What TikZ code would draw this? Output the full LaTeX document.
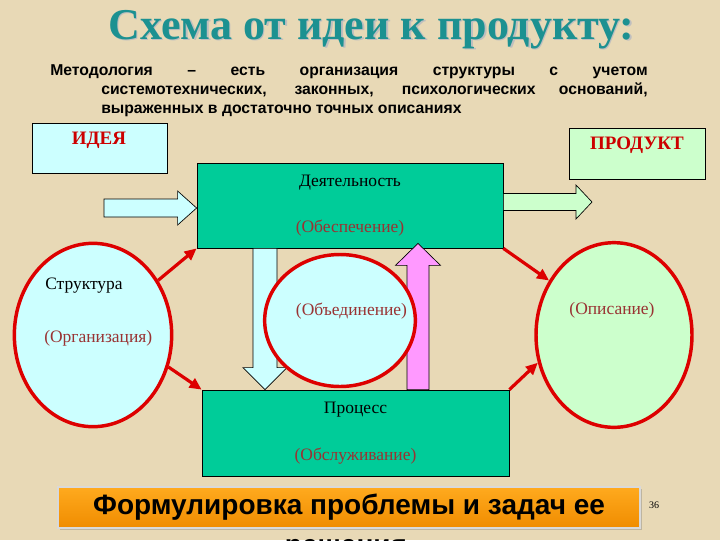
\documentclass[tikz,border=0pt]{standalone}
\usepackage{fontspec}
\setmainfont{Liberation Serif}
\newfontfamily\arialfont{Liberation Sans}
\usetikzlibrary{shapes.geometric,arrows.meta,calc,shadows}

\definecolor{parchment}{RGB}{232,217,182}
\definecolor{titleteal}{RGB}{28,145,145}
\definecolor{paleblue}{RGB}{204,255,255}
\definecolor{palegreen}{RGB}{204,255,204}
\definecolor{seagreen}{RGB}{0,204,153}
\definecolor{orchid}{RGB}{255,153,255}
\definecolor{linkred}{RGB}{221,0,0}
\definecolor{notered}{RGB}{153,51,51}
\definecolor{capsred}{RGB}{204,0,0}
\definecolor{bannerlight}{RGB}{255,170,30}
\definecolor{bannerdark}{RGB}{240,140,0}

\tikzset{
  panel/.style={draw=black, line width=0.6pt, inner sep=0pt},
  bubble/.style={ellipse, draw=linkred, line width=2.6pt, inner sep=0pt},
  link/.style={draw=linkred, line width=2.4pt, -{Triangle[length=9pt,width=8pt]}},
  flatstyle/.style={draw=black, line width=0.5pt},
  captext/.style={font=\fontsize{14.25}{17}\selectfont\bfseries, text=capsred, inner sep=0pt},
  boxtext/.style={font=\fontsize{13.1}{15.75}\selectfont, align=center, inner sep=0pt},
  bannertext/.style={font=\arialfont\bfseries\fontsize{21}{25}\selectfont, inner sep=0pt}
}

% block arrow: style, start, tip, shaft half width, head half width, head length
\newcommand{\flatarrow}[6]{%
  \path ($(#3)!#6!(#2)$) coordinate (ba-base);
  \draw[#1] ($(#2)!#4!90:(#3)$) -- ($(ba-base)!#4!90:(#3)$) -- ($(ba-base)!#5!90:(#3)$) -- (#3)
    -- ($(ba-base)!#5!-90:(#3)$) -- ($(ba-base)!#4!-90:(#3)$) -- ($(#2)!#4!-90:(#3)$) -- cycle;
}

\begin{document}
\begin{tikzpicture}[x=0.75pt, y=-0.75pt]
    \clip (0,0) rectangle (720,540);
    \fill[parchment] (0,0) rectangle (720,540);

    % title and definition
    \node[anchor=base, font=\fontsize{33}{40}\selectfont\bfseries, text=gray!50] (titleshadow) at (373,40.5) {Схема от идеи к продукту:};
    \node[anchor=base, font=\fontsize{33}{40}\selectfont\bfseries, text=titleteal] (title) at (371.5,39) {Схема от идеи к продукту:};
    \node[anchor=north west, inner sep=0pt, font=\arialfont\bfseries\fontsize{11.8}{14.25}\selectfont] (method) at (50,64)
          {\begin{minipage}[t]{448pt}
           \hangindent=38.25pt\hangafter=1 Методология – есть организация структуры с учетом\linebreak
           системотехнических, законных, психологических оснований,\linebreak
           выраженных в достаточно точных описаниях
           \end{minipage}};

    % boxes
    \node[panel, fill=paleblue, minimum width=101.25pt, minimum height=37.5pt] (idea) at (99.5,148) {};
    \node[captext] (idealbl) at (99,140) {ИДЕЯ};
    \node[panel, fill=palegreen, minimum width=102pt, minimum height=38.25pt] (product) at (637,153.5) {};
    \node[captext] (productlbl) at (637,145) {ПРОДУКТ};

    \node[panel, fill=seagreen, minimum width=229.5pt, minimum height=63.75pt, boxtext] (deyat) at (350,205.5)
        {Деятельность\\[18.75pt]\textcolor{notered}{(Обеспечение)}};
    \node[panel, fill=seagreen, minimum width=230.25pt, minimum height=64.5pt, boxtext] (process) at (355.5,433)
        {Процесс\\[19.5pt]\textcolor{notered}{(Обслуживание)}};

    % block arrows
    \coordinate (ideafeed) at (104,208);
    \coordinate (ideatip) at (ideafeed -| deyat.west);
    \coordinate (prodfeed) at (592,202);
    \coordinate (prodstart) at (prodfeed -| deyat.east);
    \path (deyat.south) ++(-85,0) coordinate (downstart);
    \coordinate (downtip) at (downstart |- process.north);
    \path (process.north) ++(62.5,0) coordinate (upstart);
    \coordinate (uptip) at ($(upstart |- deyat.south)+(0,-5)$);

    \flatarrow{flatstyle, fill=paleblue}{ideafeed}{ideatip}{6.75pt}{12.75pt}{14.25pt}
    \flatarrow{flatstyle, fill=palegreen}{prodstart}{prodfeed}{6.4pt}{12.75pt}{12pt}
    \flatarrow{flatstyle, fill=paleblue}{downstart}{downtip}{9pt}{16.5pt}{16.5pt}
    \flatarrow{flatstyle, fill=orchid}{upstart}{uptip}{8.25pt}{16.9pt}{16.5pt}

    % ellipses
    \node[bubble, fill=paleblue, minimum width=118pt, minimum height=137.5pt] (lstruct) at (93,335) {};
    \node[bubble, fill=paleblue, minimum width=113pt, minimum height=99pt] (munion) at (340,320.5) {};
    \node[bubble, fill=palegreen, minimum width=117pt, minimum height=138.5pt] (rdesc) at (614,335) {};

    \node[boxtext, anchor=west] (structlbl) at (45,286) {Структура};
    \node[boxtext, anchor=west, text=notered] (orglbl) at (44,338) {(Организация)};
    \node[boxtext, text=notered] (unionlbl) at (351.5,311) {(Объединение)};
    \node[boxtext, text=notered] (desclbl) at (612,310) {(Описание)};

    \draw[link] (lstruct.40) -- (deyat.south west);
    \draw[link] (lstruct.-23) -- (process.north west);
    \draw[link] (deyat.south east) -- (rdesc.140);
    \draw[link] (process.north east) -- (rdesc.200);

    % banner
    \node[top color=bannerlight, bottom color=bannerdark, draw=gray!30, line width=0.8pt,
          minimum width=436.5pt, minimum height=30.75pt,
          drop shadow={shadow xshift=1.5pt, shadow yshift=-1.5pt, opacity=0.4}, bannertext] (banner) at (349,507.5)
          {Формулировка проблемы и задач ее};
    \node[bannertext, anchor=base] (solvelbl) at (346,554) {решения};
    \node[font=\fontsize{7.5}{9}\selectfont, inner sep=0pt] (pagenum) at (654,505) {36};
\end{tikzpicture}
\end{document}
